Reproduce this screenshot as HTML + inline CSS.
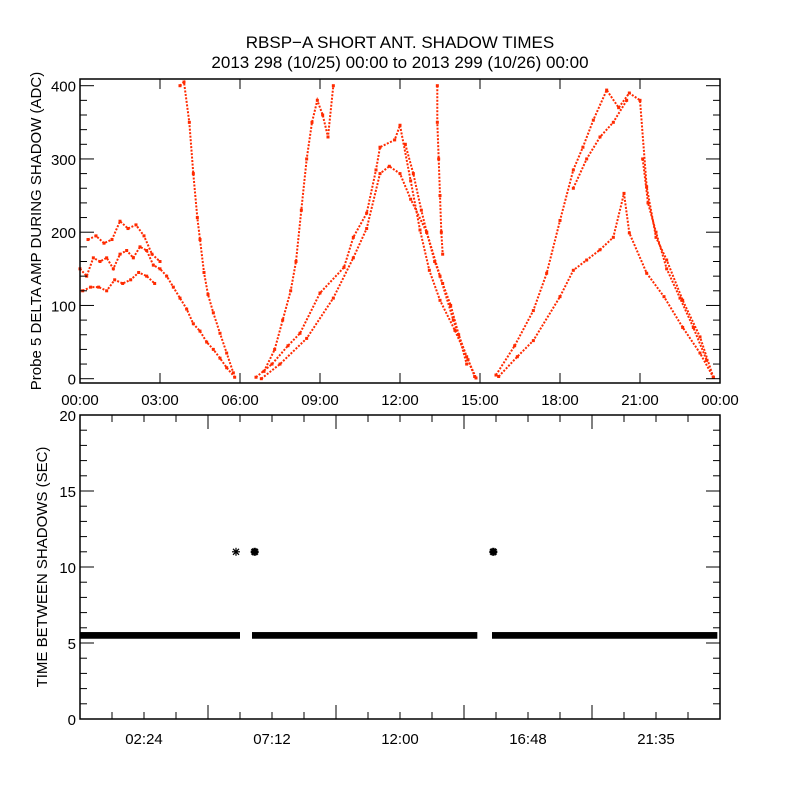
<!DOCTYPE html>
<html><head><meta charset="utf-8"><style>
html,body{margin:0;padding:0;background:#fff;}
svg{display:block;font-family:"Liberation Sans",sans-serif;}
</style></head><body>
<svg id="chart" width="800" height="800" viewBox="0 0 800 800">
<rect width="800" height="800" fill="#fff"/>
<text x="400" y="48" text-anchor="middle" font-size="17">RBSP−A SHORT ANT. SHADOW TIMES</text>
<text x="400" y="68" text-anchor="middle" font-size="17">2013 298 (10/25) 00:00 to 2013 299 (10/26) 00:00</text>
<g id="topPanel"></g>
<g id="botPanel"></g>
</svg>
<script>
// ---- Top panel data (hours, ADC) ----
const seg1Main = [[0,150],[0.25,140],[0.5,165],[0.75,160],[1,165],[1.25,150],[1.5,170],[1.75,175],[2,165],[2.25,180],[2.5,175],[2.75,155],[3,150],[3.25,140],[3.5,125],[3.75,110],[4,95],[4.25,75],[4.5,65],[4.75,50],[5,40],[5.25,28],[5.5,15],[5.8,2]];
const seg1Hi = [[0.3,190],[0.6,195],[0.9,185],[1.2,190],[1.5,215],[1.8,205],[2.1,210],[2.4,195],[2.7,170],[3.0,160]];
const seg1Lo = [[0.1,120],[0.4,125],[0.7,125],[1.0,120],[1.3,135],[1.6,130],[1.9,135],[2.2,145],[2.5,140],[2.8,130]];
const seg1Steep = [[3.75,400],[3.9,405],[4.1,350],[4.25,280],[4.4,220],[4.5,190],[4.65,145],[4.8,115],[5.0,90],[5.25,62],[5.5,35],[5.75,8]];
const seg2Main = [[6.6,2],[7.2,20],[7.8,45],[8.25,62],[9,117],[9.9,152],[10.25,193],[10.75,226],[11.1,285],[11.25,316],[11.8,326],[12,346],[12.4,270],[12.75,203],[13.1,148],[13.5,107],[14.06,66],[14.55,26],[14.85,1]];
const seg2Low = [[6.8,0],[7.5,20],[8.5,55],[9.5,110],[10.25,165],[10.75,205],[11.25,280],[11.6,290],[12,280],[12.4,245],[13,200],[13.5,140],[14,80],[14.5,30],[14.8,3]];
const seg2Steep = [[6.9,10],[7.3,40],[7.6,80],[7.9,120],[8.1,160],[8.3,230],[8.5,300],[8.7,350],[8.9,380],[9.1,360],[9.3,330],[9.5,400]];
const seg2Cloud = [[12.2,320],[12.5,280],[12.8,230],[13.0,200],[13.3,160],[13.6,130],[13.9,100],[14.2,60],[14.5,20]];
const seg2Column = [[13.4,400],[13.4,350],[13.45,300],[13.5,250],[13.55,200],[13.6,170]];
const seg3Upper = [[15.6,5],[16.3,45],[17,93],[17.5,144],[18,216],[18.5,285],[18.86,316],[19.25,353],[19.75,394],[20.2,370],[20.6,390],[21,380],[21.25,262],[21.6,193],[22,162],[22.6,107],[23.25,57],[23.75,2]];
const seg3Lower = [[15.7,3],[16.4,30],[17,52],[18,112],[18.5,148],[19,162],[19.5,176],[20,193],[20.4,253],[20.6,199],[21.25,144],[21.9,112],[22.6,70],[23.25,35],[23.75,2]];
const seg3Mid = [[18.5,260],[19,300],[19.5,330],[20,350],[20.5,380]];
const seg3Tail = [[21.1,300],[21.3,240],[21.6,200],[22.0,150],[22.5,110],[23,70],[23.5,25]];
const topSeries = [seg1Main,seg1Hi,seg1Lo,seg1Steep,seg2Main,seg2Low,seg2Steep,seg2Cloud,seg2Column,seg3Upper,seg3Lower,seg3Mid,seg3Tail];
const topYTicks = [0,100,200,300,400];
const topXLabels = ["00:00","03:00","06:00","09:00","12:00","15:00","18:00","21:00","00:00"];
// ---- Bottom panel data ----
const bandRanges = [[0,6.0],[6.45,14.9],[15.45,23.9]];
const bandValue = [5.5];
const outliers = [[5.85,11],[6.55,11],[15.5,11]];
const botYTicks = [0,5,10,15,20];
const botXLabels = ["02:24","07:12","12:00","16:48","21:35"];

const NS="http://www.w3.org/2000/svg";
const L=80,R=720;
const xs=t=>L+(t/24)*(R-L);
const T0=79,T1=383,ty=v=>378.7-v*0.7325;
const B0=415,B1=719,by=v=>719-v*15.2;
function mk(parent,tag,attrs){const e=document.createElementNS(NS,tag);for(const k in attrs)e.setAttribute(k,attrs[k]);parent.appendChild(e);return e;}
const topG=document.getElementById('topPanel'),botG=document.getElementById('botPanel');
const RED="#ff2a00";

topSeries.forEach((s,i)=>{
  const pts=s.map(p=>xs(p[0]).toFixed(1)+","+ty(p[1]).toFixed(1)).join(" ");
  const pl=mk(topG,'polyline',{points:pts,fill:'none',stroke:RED,'stroke-width':2,'stroke-dasharray':'2 1.5'});
  
  
  s.forEach(p=>{
    const d=mk(topG,'rect',{x:xs(p[0])-1.5,y:ty(p[1])-1.5,width:3,height:3,fill:RED});
    
    
  });
});
const tf=mk(topG,'rect',{x:L,y:T0,width:R-L,height:T1-T0,fill:'none',stroke:'#000','stroke-width':1.5});


for(let v=0;v<=400;v+=20){
  const len=(v%100===0)?14:7;
  mk(topG,'line',{x1:L,x2:L+len,y1:ty(v),y2:ty(v),stroke:'#000','stroke-width':1});
  mk(topG,'line',{x1:R,x2:R-len,y1:ty(v),y2:ty(v),stroke:'#000','stroke-width':1});
}
topYTicks.forEach(v=>{
  const t=mk(topG,'text',{x:L-4,y:ty(v)+6,'text-anchor':'end','font-size':15});
  t.textContent=v;
  
  
});
topXLabels.forEach((lab,i)=>{
  const x=xs(i*3);
  mk(topG,'line',{x1:x,x2:x,y1:T1,y2:T1-10,stroke:'#000'});
  mk(topG,'line',{x1:x,x2:x,y1:T0,y2:T0+10,stroke:'#000'});
  const t=mk(topG,'text',{x:x,y:405,'text-anchor':'middle','font-size':15});
  t.textContent=lab;
  
  
});
const tyt=mk(topG,'text',{transform:'translate(41,231) rotate(-90)','text-anchor':'middle','font-size':15});
tyt.textContent='Probe 5 DELTA AMP DURING SHADOW (ADC)';



bandRanges.forEach(r=>{
  const b=mk(botG,'rect',{x:xs(r[0]),y:by(bandValue[0]+0.22),width:xs(r[1])-xs(r[0]),height:by(bandValue[0]-0.22)-by(bandValue[0]+0.22),fill:'#000'});
  
  
});
outliers.forEach((p,i)=>{
  const cx=xs(p[0]),cy=by(p[1]);
  const g=mk(botG,'g',{stroke:'#000','stroke-width':i===0?1.2:2.4});
  
  
  mk(g,'line',{x1:cx-4,x2:cx+4,y1:cy,y2:cy});
  mk(g,'line',{x1:cx,x2:cx,y1:cy-4,y2:cy+4});
  mk(g,'line',{x1:cx-3,x2:cx+3,y1:cy-3,y2:cy+3});
  mk(g,'line',{x1:cx-3,x2:cx+3,y1:cy+3,y2:cy-3});
});
const bf=mk(botG,'rect',{x:L,y:B0,width:R-L,height:B1-B0,fill:'none',stroke:'#000','stroke-width':1.5});


for(let v=0;v<=20;v++){
  const len=(v%5===0)?14:7;
  mk(botG,'line',{x1:L,x2:L+len,y1:by(v),y2:by(v),stroke:'#000'});
  mk(botG,'line',{x1:R,x2:R-len,y1:by(v),y2:by(v),stroke:'#000'});
}
botYTicks.forEach(v=>{
  const t=mk(botG,'text',{x:L-4,y:by(v)+6,'text-anchor':'end','font-size':15});
  t.textContent=v;
  
  
});
for(let k=1;k<20;k++){
  const x=L+k*32,len=(k%4===0)?14:7;
  mk(botG,'line',{x1:x,x2:x,y1:B1,y2:B1-len,stroke:'#000'});
  mk(botG,'line',{x1:x,x2:x,y1:B0,y2:B0+len,stroke:'#000'});
}
botXLabels.forEach((lab,i)=>{
  const t=mk(botG,'text',{x:xs(2.4+i*4.8),y:744,'text-anchor':'middle','font-size':15});
  t.textContent=lab;
  
  
});
const byt=mk(botG,'text',{transform:'translate(47,567) rotate(-90)','text-anchor':'middle','font-size':15});
byt.textContent='TIME BETWEEN SHADOWS (SEC)';


</script>
</body></html>
